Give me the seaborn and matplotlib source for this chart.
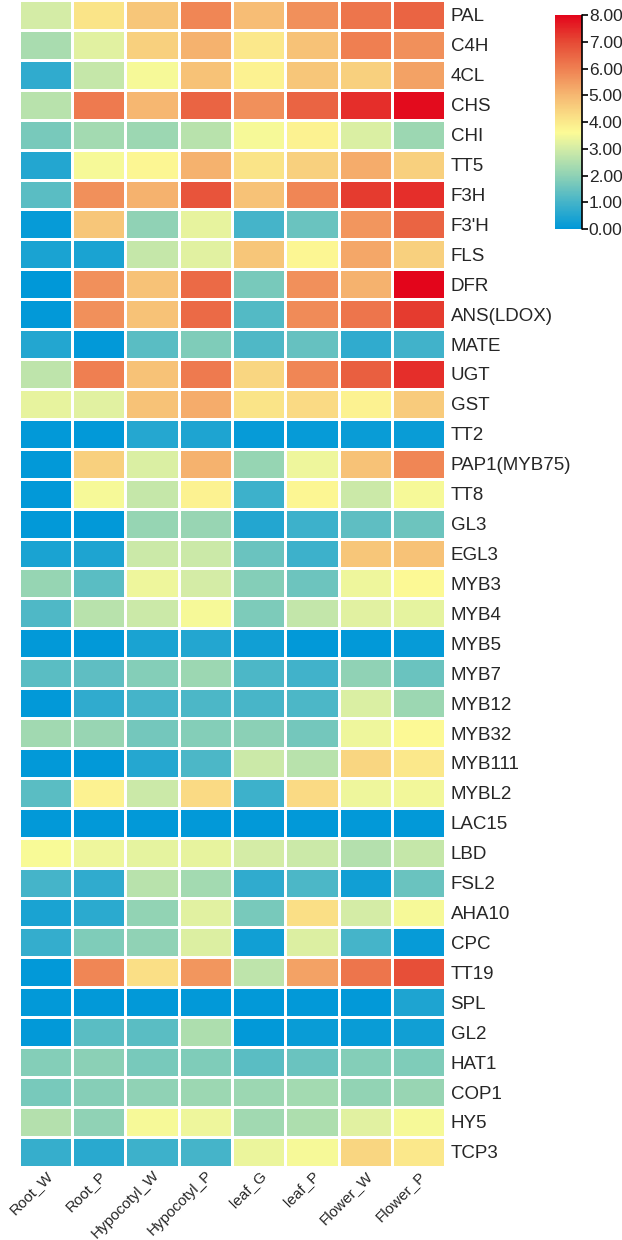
import matplotlib
matplotlib.use("Agg")
import matplotlib.pyplot as plt
from matplotlib.colors import LinearSegmentedColormap
import pandas as pd
import seaborn as sns

sns.set_theme(style="white")
plt.rcParams['font.family'] = ['Liberation Sans', 'DejaVu Sans']

# genes (rows) and samples (columns)
genes = ["PAL", "C4H", "4CL", "CHS", "CHI", "TT5", "F3H", "F3'H", "FLS", "DFR",
         "ANS(LDOX)", "MATE", "UGT", "GST", "TT2", "PAP1(MYB75)", "TT8", "GL3",
         "EGL3", "MYB3", "MYB4", "MYB5", "MYB7", "MYB12", "MYB32", "MYB111",
         "MYBL2", "LAC15", "LBD", "FSL2", "AHA10", "CPC", "TT19", "SPL", "GL2",
         "HAT1", "COP1", "HY5", "TCP3"]
samples = ["Root_W", "Root_P", "Hypocotyl_W", "Hypocotyl_P",
           "leaf_G", "leaf_P", "Flower_W", "Flower_P"]

# expression values, one list per sample
root_w = [3.0, 2.4, 0.7, 2.6, 1.7, 0.5, 1.3, 0.1, 0.4, 0.0, 0.05, 0.5, 2.7, 3.3,
          0.05, 0.05, 0.05, 0.05, 0.4, 2.1, 1.15, 0.05, 1.3, 0.05, 2.25, 0.05,
          1.3, 0.05, 3.55, 1.0, 0.4, 0.75, 0.05, 0.05, 0.05, 1.85, 1.7, 2.55, 0.8]
root_p = [4.1, 3.2, 2.8, 6.1, 2.3, 3.5, 5.7, 4.7, 0.4, 5.7, 5.7, 0.05, 6.0, 3.2,
          0.05, 4.5, 3.5, 0.05, 0.45, 1.3, 2.6, 0.05, 1.35, 0.7, 2.15, 0.05,
          3.8, 0.05, 3.4, 0.7, 0.65, 1.8, 5.9, 0.05, 1.3, 1.95, 1.9, 2.0, 0.6]
hypocotyl_w = [4.7, 4.5, 3.5, 5.0, 2.2, 3.7, 5.1, 2.0, 2.8, 4.8, 4.8, 1.3, 4.8, 4.8,
               0.55, 3.1, 2.8, 2.1, 2.9, 3.4, 2.9, 0.4, 1.85, 1.0, 1.65, 0.55,
               2.9, 0.05, 3.25, 2.6, 2.05, 2.0, 4.2, 0.05, 1.3, 1.7, 2.0, 3.5, 0.9]
hypocotyl_p = [5.9, 5.1, 4.8, 6.5, 2.6, 5.1, 6.8, 3.3, 3.2, 6.4, 6.4, 1.8, 6.1, 5.2,
               0.45, 5.1, 3.8, 2.15, 2.9, 3.0, 3.5, 0.5, 2.2, 1.1, 1.85, 1.1,
               4.3, 0.05, 3.3, 2.3, 3.2, 3.15, 5.6, 0.05, 2.45, 1.8, 2.2, 3.4, 1.0]
leaf_g = [4.9, 4.0, 3.8, 5.7, 3.5, 4.1, 4.8, 1.0, 4.7, 1.7, 1.2, 1.15, 4.4, 4.1,
          0.1, 2.1, 0.9, 0.5, 1.5, 1.85, 1.75, 0.25, 1.1, 1.05, 1.95, 2.9,
          0.9, 0.05, 3.0, 0.7, 1.7, 0.25, 2.7, 0.05, 0.05, 1.3, 2.2, 2.25, 3.35]
leaf_p = [5.7, 4.8, 4.7, 6.5, 3.8, 4.5, 5.9, 1.5, 3.7, 5.7, 5.8, 1.45, 5.9, 4.3,
          0.1, 3.4, 3.7, 0.9, 0.9, 1.55, 2.75, 0.05, 0.95, 1.1, 1.65, 2.6,
          4.3, 0.05, 2.9, 1.1, 4.2, 3.15, 5.4, 0.05, 0.15, 1.5, 2.3, 2.45, 3.5]
flower_w = [6.2, 6.0, 4.5, 7.4, 3.1, 5.2, 7.2, 5.6, 5.3, 5.1, 6.2, 0.7, 6.6, 3.8,
            0.15, 4.8, 2.9, 1.35, 4.7, 3.4, 3.2, 0.05, 2.0, 3.1, 3.4, 4.4,
            3.4, 0.05, 2.55, 0.25, 3.0, 1.0, 6.2, 0.05, 0.15, 1.85, 2.05, 3.2, 4.4]
flower_p = [6.5, 5.7, 5.4, 7.9, 2.2, 4.5, 7.4, 6.5, 4.5, 8.0, 7.2, 0.95, 7.4, 4.6,
            0.15, 5.9, 3.5, 1.55, 4.8, 3.65, 3.25, 0.1, 1.5, 2.2, 3.65, 4.0,
            3.45, 0.05, 2.8, 1.5, 3.5, 0.1, 6.9, 0.45, 0.25, 1.8, 2.15, 3.5, 4.0]

df = pd.DataFrame(dict(zip(samples, [root_w, root_p, hypocotyl_w, hypocotyl_p,
                                     leaf_g, leaf_p, flower_w, flower_p])),
                  index=genes)

# blue -> yellow -> red scale
cmap = LinearSegmentedColormap.from_list("expr", [
    (0.0, "#0098d8"), (0.125, "#45b4c9"), (0.25, "#8fd2b5"), (0.375, "#d3eca6"),
    (0.45, "#fcfb96"), (0.5, "#fbe98b"), (0.625, "#f6b872"), (0.75, "#ef8052"),
    (0.875, "#e64a35"), (1.0, "#e3051b")])

fig = plt.figure(figsize=(6.22, 12.40), dpi=100)
ax = fig.add_axes([0.0305, 0.059, 0.685, 0.941])
cax = fig.add_axes([0.892, 0.8153, 0.0434, 0.1726])

sns.heatmap(df, ax=ax, cbar_ax=cax, cmap=cmap, vmin=0, vmax=8,
            linewidths=1, linecolor="white",
            cbar_kws={"ticks": [0, 1, 2, 3, 4, 5, 6, 7, 8], "format": "%.2f"})

ax.yaxis.tick_right()
ax.set_yticklabels(genes, rotation=0, fontsize=13.5)
ax.set_xticklabels(samples, rotation=45, ha="right", rotation_mode="anchor",
                   fontsize=11)
ax.tick_params(axis="y", length=0, pad=4)
ax.tick_params(axis="x", length=0, pad=1)
ax.set_xlabel("")
ax.set_ylabel("")

cax.tick_params(labelsize=12.5, length=4, width=1.2, color="black",
                direction="out", pad=1)
cax.plot([1, 1], [0, 1], transform=cax.transAxes, color="black", lw=1.2,
         clip_on=False)

fig.savefig("out.png", dpi=100)
print("Produced heatmap")
